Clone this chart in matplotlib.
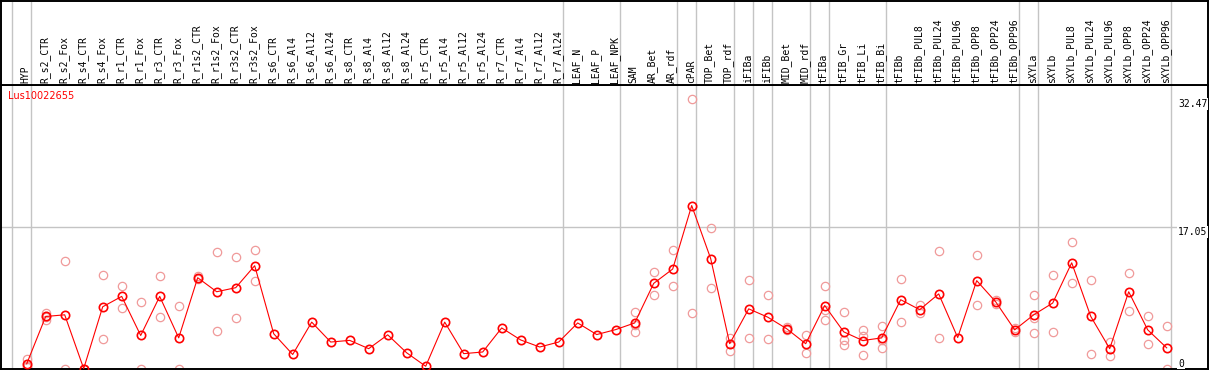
import matplotlib
matplotlib.use("Agg")
import matplotlib.pyplot as plt

# column labels (61 samples)
labels = ["HYP", "R_s2_CTR", "R_s2_Fox", "R_s4_CTR", "R_s4_Fox", "R_r1_CTR", "R_r1_Fox",
          "R_r3_CTR", "R_r3_Fox", "R_r1s2_CTR", "R_r1s2_Fox", "R_r3s2_CTR", "R_r3s2_Fox",
          "R_s6_CTR", "R_s6_Al4", "R_s6_Al12", "R_s6_Al24", "R_s8_CTR", "R_s8_Al4",
          "R_s8_Al12", "R_s8_Al24", "R_r5_CTR", "R_r5_Al4", "R_r5_Al12", "R_r5_Al24",
          "R_r7_CTR", "R_r7_Al4", "R_r7_Al12", "R_r7_Al24", "LEAF_N", "LEAF_P", "LEAF_NPK",
          "SAM", "AR_Bet", "AR_rdf", "cPAR", "TOP_Bet", "TOP_rdf", "iFIBa", "iFIBb",
          "MID_Bet", "MID_rdf", "tFIBa", "tFIB_Gr", "tFIB_Li", "tFIB_Bi", "tFIBb",
          "tFIBb_PUL8", "tFIBb_PUL24", "tFIBb_PUL96", "tFIBb_OPP8", "tFIBb_OPP24",
          "tFIBb_OPP96", "sXYLa", "sXYLb", "sXYLb_PUL8", "sXYLb_PUL24", "sXYLb_PUL96",
          "sXYLb_OPP8", "sXYLb_OPP24", "sXYLb_OPP96"]

# mean expression per sample
means = [0.57, 6.28, 6.48, 0.0, 7.45, 8.7, 3.99, 8.7, 3.7, 10.95, 9.26, 9.75, 12.4,
         4.2, 1.7, 5.6, 3.2, 3.4, 2.4, 4.07, 1.9, 0.28, 5.6, 1.8, 2.0, 4.9, 3.45, 2.6,
         3.2, 5.5, 4.1, 4.7, 5.5, 10.27, 12.0, 19.65, 13.25, 3.0, 7.2, 6.2, 4.8, 3.0,
         7.6, 4.43, 3.38, 3.7, 8.3, 7.1, 9.0, 3.74, 10.6, 8.05, 4.67, 6.48, 7.9, 12.75,
         6.3, 2.4, 9.26, 4.67, 2.5]

# replicate values per sample (empty = single value)
replicates = [[1.2, 0.3, 0.2], [6.7, 6.2, 5.9], [13.0, 0.0], [0.0, 0.0], [11.3, 3.6],
              [10.0, 7.3], [8.05, 0.0], [11.1, 6.2], [7.6, 0.0], [11.1, 10.8],
              [14.0, 4.55], [13.5, 6.1], [14.3, 10.5],
              [], [], [], [], [], [], [], [], [], [], [], [], [], [], [], [], [], [], [],
              [6.85, 5.3, 4.4], [11.7, 8.9], [14.3, 9.9], [32.47, 6.7], [16.9, 9.75],
              [3.7, 2.1], [10.7, 3.7], [8.9, 3.6], [5.0, 4.6], [4.0, 1.9],
              [9.9, 7.1, 5.8], [6.85, 3.5, 2.9], [4.6, 3.9, 1.65], [5.15, 3.5, 2.5],
              [10.8, 5.6], [7.65, 6.65], [14.2, 3.7], [], [13.65, 7.7], [8.3, 7.8],
              [4.9, 4.4], [8.9, 6.1, 4.3], [11.3, 4.4], [15.3, 10.35], [10.7, 1.8],
              [3.26, 1.5], [11.55, 6.9], [6.36, 3.0], [5.15, 0.0]]

# last sample index of each group (separators drawn after them)
group_ends = [-1, 0, 28, 31, 34, 35, 37, 38, 39, 41, 42, 45, 52, 53, 60]
y_ticks = [0, 17.05, 32.47]
gene = "Lus10022655"

W, H = 1209, 370
HEAD = 85
x0, step = 26.7, 19.0
ppu = 8.28  # pixels per unit

fig = plt.figure(figsize=(W / 100, H / 100), dpi=100)
xl = ((1 - x0) / step, (W - 1 - x0) / step)

ax = fig.add_axes([1 / W, 1 / H, (W - 2) / W, (H - HEAD - 1) / H])
hx = fig.add_axes([1 / W, (H - HEAD) / H, (W - 2) / W, (HEAD - 1) / H])

for a in (ax, hx):
    a.set_xlim(*xl)
    a.set_xticks([])
    a.set_yticks([])
    for s in a.spines.values():
        s.set_linewidth(1.4)
        s.set_color("black")
    for g in group_ends:
        a.axvline(g + 0.21, color="#c4c4c4", lw=1, zorder=0)

ax.set_ylim(-0.05, (H - HEAD - 1 - 1) / ppu)
hx.set_ylim(0, 1)

ax.axhline(17.05, color="#c4c4c4", lw=1, zorder=0)

xs = list(range(len(labels)))
for i, reps in enumerate(replicates):
    if reps:
        ax.plot([i] * len(reps), reps, linestyle="none", marker="o", ms=6,
                mfc="none", mec="#f09a9a", mew=0.9, zorder=2)
ax.plot(xs, means, color="red", lw=0.8, marker="o", ms=6, mfc="none",
        mec="red", mew=1.2, zorder=3)

ax.text(-1.0, 32.85, gene, color="red", fontsize=7, family="DejaVu Sans",
        va="center", ha="left")

tx = (1178 - x0) / step
for v in y_ticks:
    va = "bottom" if v == 0 else "top"
    ax.text(tx, v, f"{v:g}" if v else "0", fontsize=7, family="DejaVu Sans Mono",
            ha="left", va=va, zorder=4,
            bbox=dict(facecolor="white", edgecolor="none", pad=0.5))

for i, lab in enumerate(labels):
    hx.text(i - 0.05, 2.5 / HEAD, lab, rotation=90, fontsize=7,
            family="DejaVu Sans Mono", ha="center", va="bottom")

fig.savefig("out.png", dpi=100)
